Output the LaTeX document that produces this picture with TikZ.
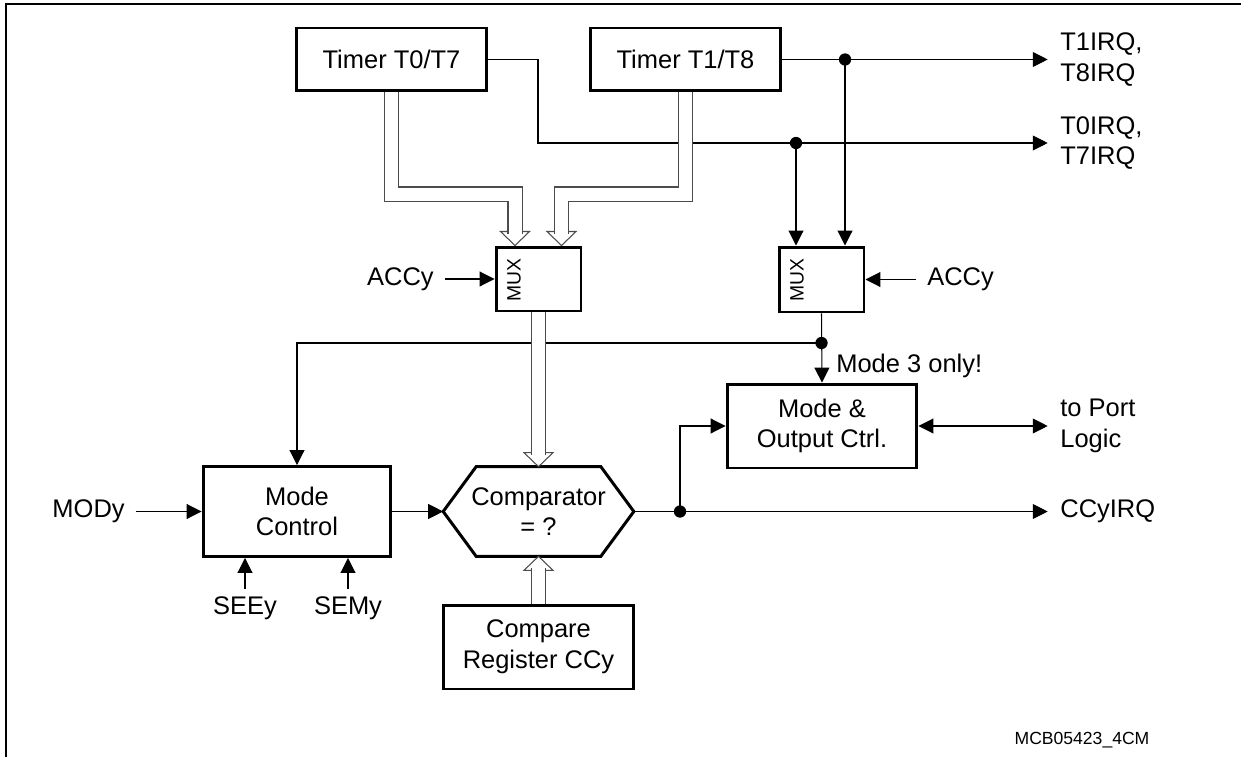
\documentclass[tikz,border=0pt]{standalone}
\usepackage{fontspec}
\setmainfont{Liberation Sans}
\usetikzlibrary{arrows.meta,calc}
\newcommand\hheaddown[1]{\draw[hhead] (#1) -- ++(-14.5,-14) -- ++(29,0) -- cycle;}
\newcommand\hheadup[1]{\draw[hhead] (#1) -- ++(-14.5,14) -- ++(29,0) -- cycle;}
\begin{document}
\begin{tikzpicture}[x=0.02cm,y=-0.02cm,
  font=\fontsize{14.5}{17.5}\selectfont,
  blk/.style={draw, line width=1.7pt, align=center, inner sep=0pt},
  wire/.style={line width=0.6pt},
  arr/.style={wire, -{Triangle[length=8.5pt,width=8.5pt]}},
  barr/.style={wire, {Triangle[length=8.5pt,width=8.5pt]}-{Triangle[length=8.5pt,width=8.5pt]}},
  bus/.style={draw=black!70, line width=0.6pt, double=white, double distance=0.26cm},
  hhead/.style={draw=black!70, line width=0.6pt, fill=white, line join=miter},
  dot/.style={circle, fill, inner sep=0pt, minimum size=7pt},
  lbl/.style={inner sep=0pt, align=left},
  muxlbl/.style={rotate=90, inner sep=0pt, font=\fontsize{11}{13}\selectfont},
]
\useasboundingbox (0,0) rectangle (1241,757);
% frame
\draw[line width=1.1pt] (6,757) -- (6,4) -- (1241,4);

% blocks
\node[blk, minimum width=3.82cm, minimum height=1.26cm] (t07) at (391.5,59.5) {Timer T0/T7};
\node[blk, minimum width=3.82cm, minimum height=1.26cm] (t18) at (685.5,59.5) {Timer T1/T8};
\node[blk, minimum width=1.7cm, minimum height=1.28cm] (mux1) at (538.5,279) {};
\node[blk, minimum width=1.7cm, minimum height=1.3cm] (mux2) at (821.5,279.5) {};
\node[muxlbl] (mux1lbl) at (514,280) {MUX};
\node[muxlbl] (mux2lbl) at (797,280) {MUX};
\node[blk, minimum width=3.76cm, minimum height=1.8cm] (mc) at (297,511.5) {Mode\\Control};
\node[minimum width=3.8cm, minimum height=1.78cm, align=center, inner sep=0pt] (cmp) at (538.5,511.5) {Comparator\\= ?};
\draw[line width=1.7pt, line join=miter] (cmp.west) -- ($(cmp.north west)+(33,0)$) -- ($(cmp.north east)+(-33,0)$) -- (cmp.east) -- ($(cmp.south east)+(-33,0)$) -- ($(cmp.south west)+(33,0)$) -- cycle;
\node[blk, minimum width=3.8cm, minimum height=1.68cm] (mo) at (822,426) {Mode \&\\Output Ctrl.};
\node[blk, minimum width=3.8cm, minimum height=1.68cm] (cr) at (538.5,647) {Compare\\Register CCy};

% labels
\node[lbl, anchor=west] (t1irq) at (1060,59.5) {T1IRQ,\\T8IRQ};
\node[lbl, anchor=west] (t0irq) at (1060,143) {T0IRQ,\\T7IRQ};
\node[lbl, anchor=east] (accl) at (434,279) {ACCy};
\node[lbl, anchor=west] (accr) at (927,279.5) {ACCy};
\node[lbl, anchor=east] (mody) at (125,511.5) {MODy};
\node[lbl] (seey) at (245,608) {SEEy};
\node[lbl] (semy) at (348,608) {SEMy};
\node[lbl, anchor=west] (m3) at (836,366) {Mode 3 only!};
\node[lbl, anchor=west] (port) at (1060,426) {to Port\\Logic};
\node[lbl, anchor=west] (ccyirq) at (1060,511.5) {CCyIRQ};
\node[inner sep=0pt, font=\fontsize{10}{12}\selectfont] (mcb) at (1082,740) {MCB05423\_4CM};

% junctions
\coordinate (d0) at (796,143);
\coordinate (d1) at (845,59.5);
\coordinate (d2) at (821.5,343);
\coordinate (d3) at (680,511.5);

% wires
\draw[arr, shorten >=7pt] (t18.east) -- (t1irq.west);
\draw[arr, shorten >=7pt] (t07.east) -| (538,143) -- (t0irq.west);
\draw[arr] (d1) -- (d1 |- mux2.north);
\draw[arr] (d0) -- (d0 |- mux2.north);
\draw[arr, shorten <=6pt] (accr.west) -- (mux2.east);
\draw[arr, shorten <=6pt] (accl.east) -- (mux1.west);
\draw[arr] (mux2.south) -- (mo.north);
\draw[arr] (d2) -| (mc.north);
\draw[arr, shorten <=6pt] (mody.east) -- (mc.west);
\draw[arr, shorten <=4pt] (seey.north) -- (seey.north |- mc.south);
\draw[arr, shorten <=4pt] (semy.north) -- (semy.north |- mc.south);
\draw[arr] (mc.east) -- (cmp.west);
\draw[arr, shorten >=7pt] (cmp.east) -- (ccyirq.west);
\draw[arr] (d3) |- (mo.west);
\draw[barr, shorten >=7pt] (mo.east) -- (port.west);

% buses
\coordinate (m1a) at ($(mux1.north)+(-23.5,0)$);
\coordinate (m1b) at ($(mux1.north)+(23,0)$);
\hheaddown{m1a}
\draw[bus] (t07.south) |- ($(m1a)+(0,-51.5)$) -- ($(m1a)+(0,-12)$);
\hheaddown{m1b}
\draw[bus] (t18.south) |- ($(m1b)+(0,-51.5)$) -- ($(m1b)+(0,-12)$);
\hheaddown{cmp.north}
\draw[bus] (mux1.south) -- ($(cmp.north)+(0,-12)$);
\hheadup{cmp.south}
\draw[bus] (cr.north) -- ($(cmp.south)+(0,12)$);

% dots
\foreach \d in {d0,d1,d2,d3} \node[dot] at (\d) {};
\end{tikzpicture}
\end{document}
